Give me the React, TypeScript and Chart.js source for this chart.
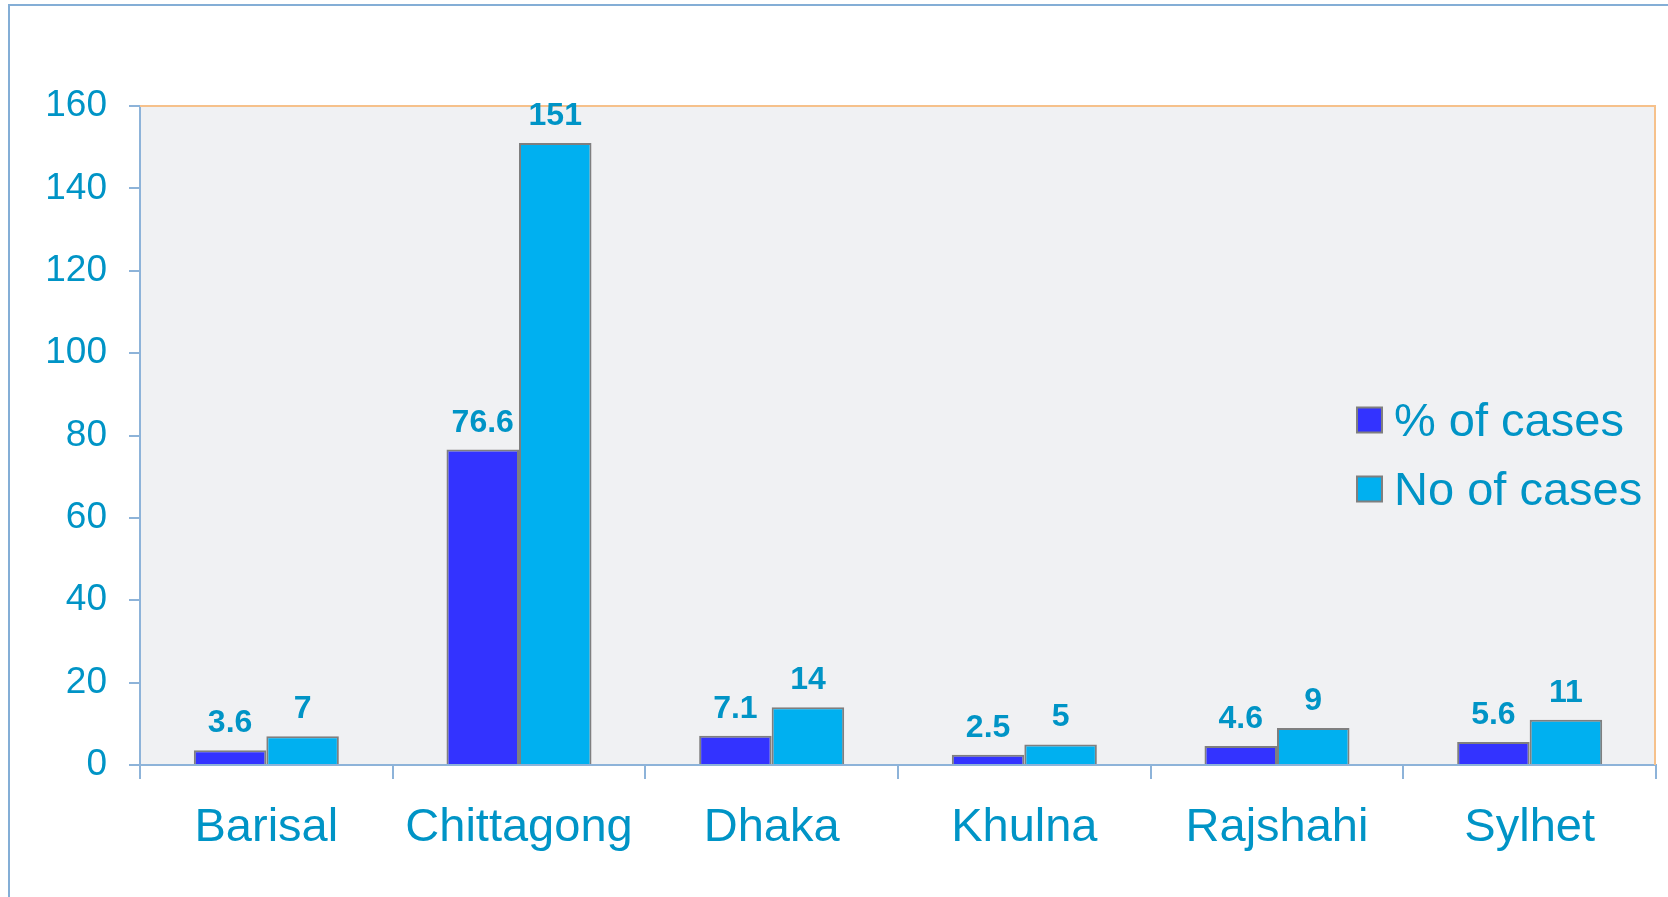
import React, { useEffect, useRef } from 'react';
import { Chart, registerables } from 'chart.js';

Chart.register(...registerables);

const categories = ['Barisal', 'Chittagong', 'Dhaka', 'Khulna', 'Rajshahi', 'Sylhet'];
const percentOfCases = [3.6, 76.6, 7.1, 2.5, 4.6, 5.6];
const numberOfCases = [7, 151, 14, 5, 9, 11];
const seriesLabels = ['% of cases', 'No of cases'];
const yMin = 0;
const yMax = 160;
const yStep = 20;

const FONT = '"Liberation Sans", Arial, Helvetica, sans-serif';
const TEXT = '#0094C6';
const AXIS = '#8DB3D9';
const FRAME = '#84AED6';
const PLOT_BG = '#F0F1F3';
const ORANGE = '#F6C18B';
const BAR_BORDER = '#7F7F7F';
const COLORS = ['#3333FF', '#00B0F0'];

const backgroundPlugin = {
  id: 'bgPlugin',
  beforeDraw(chart: any) {
    const { ctx, width, height, chartArea } = chart;
    ctx.save();
    ctx.fillStyle = '#FFFFFF';
    ctx.fillRect(0, 0, width, height);
    ctx.strokeStyle = FRAME;
    ctx.lineWidth = 2;
    ctx.beginPath();
    ctx.moveTo(9, height);
    ctx.lineTo(9, 5);
    ctx.lineTo(width, 5);
    ctx.stroke();
    ctx.fillStyle = PLOT_BG;
    ctx.fillRect(chartArea.left, chartArea.top, chartArea.right - chartArea.left, chartArea.bottom - chartArea.top);
    ctx.restore();
  },
  beforeDatasetsDraw(chart: any) {
    const { ctx, chartArea } = chart;
    ctx.save();
    ctx.strokeStyle = ORANGE;
    ctx.lineWidth = 2;
    ctx.beginPath();
    ctx.moveTo(chartArea.left, chartArea.top);
    ctx.lineTo(chartArea.right - 1, chartArea.top);
    ctx.lineTo(chartArea.right - 1, chartArea.bottom);
    ctx.stroke();
    ctx.restore();
  },
};

const valueLabelPlugin = {
  id: 'valueLabels',
  afterDatasetsDraw(chart: any) {
    const { ctx } = chart;
    ctx.save();
    ctx.fillStyle = TEXT;
    ctx.font = `bold 32px ${FONT}`;
    ctx.textAlign = 'center';
    ctx.textBaseline = 'alphabetic';
    chart.data.datasets.forEach((ds: any, di: number) => {
      const meta = chart.getDatasetMeta(di);
      meta.data.forEach((bar: any, i: number) => {
        ctx.fillText(String(ds.data[i]), bar.x, bar.y - 18);
      });
    });
    ctx.restore();
  },
};

const legendPlugin = {
  id: 'insideLegend',
  afterDraw(chart: any) {
    const { ctx, chartArea } = chart;
    const boxX = chartArea.right - 299;
    const firstCenterY = chartArea.top + 314;
    const rowGap = 69;
    const box = 25;
    ctx.save();
    ctx.font = `47px ${FONT}`;
    ctx.textAlign = 'left';
    ctx.textBaseline = 'middle';
    chart.data.datasets.forEach((ds: any, i: number) => {
      const cy = firstCenterY + i * rowGap;
      ctx.fillStyle = ds.backgroundColor;
      ctx.fillRect(boxX, cy - box / 2, box, box);
      ctx.strokeStyle = BAR_BORDER;
      ctx.lineWidth = 2;
      ctx.strokeRect(boxX, cy - box / 2, box, box);
      ctx.fillStyle = TEXT;
      ctx.fillText(ds.label, boxX + 37, cy + 3);
    });
    ctx.restore();
  },
};

export default function App() {
  const canvasRef = useRef<HTMLCanvasElement | null>(null);

  useEffect(() => {
    const canvas = canvasRef.current;
    if (!canvas) return;
    const chart = new Chart(canvas, {
      type: 'bar',
      data: {
        labels: categories,
        datasets: [
          {
            label: seriesLabels[0],
            data: percentOfCases,
            backgroundColor: COLORS[0],
            borderColor: BAR_BORDER,
            borderWidth: 2,
            categoryPercentage: 0.574,
            barPercentage: 1.0,
          },
          {
            label: seriesLabels[1],
            data: numberOfCases,
            backgroundColor: COLORS[1],
            borderColor: BAR_BORDER,
            borderWidth: 2,
            categoryPercentage: 0.574,
            barPercentage: 1.0,
          },
        ],
      },
      options: {
        animation: false,
        responsive: false,
        maintainAspectRatio: false,
        devicePixelRatio: 1,
        layout: { padding: { top: 106, right: 12, left: 0, bottom: 0 } },
        plugins: {
          legend: { display: false },
          tooltip: { enabled: false },
        },
        scales: {
          x: {
            grid: {
              offset: true,
              drawOnChartArea: false,
              drawTicks: true,
              tickLength: 14,
              color: AXIS,
              lineWidth: 2,
            },
            border: { display: true, color: AXIS, width: 2 },
            ticks: {
              color: TEXT,
              font: { family: FONT, size: 47 },
              padding: 21,
              maxRotation: 0,
              autoSkip: false,
            },
            afterFit: (s: any) => {
              s.height = 132;
            },
          },
          y: {
            min: yMin,
            max: yMax,
            ticks: {
              stepSize: yStep,
              color: TEXT,
              font: { family: FONT, size: 37 },
              padding: 22,
            },
            grid: {
              drawOnChartArea: false,
              drawTicks: true,
              tickLength: 11,
              color: AXIS,
              lineWidth: 2,
            },
            border: { display: true, color: AXIS, width: 2 },
            afterFit: (s: any) => {
              s.width = 140;
            },
          },
        },
      },
      plugins: [backgroundPlugin, valueLabelPlugin, legendPlugin],
    });
    return () => chart.destroy();
  }, []);

  return (
    <div style={{ position: 'fixed', left: 0, top: 0, width: 1668, height: 897, background: '#fff' }}>
      <canvas ref={canvasRef} width={1668} height={897} style={{ display: 'block', width: 1668, height: 897 }} />
    </div>
  );
}
